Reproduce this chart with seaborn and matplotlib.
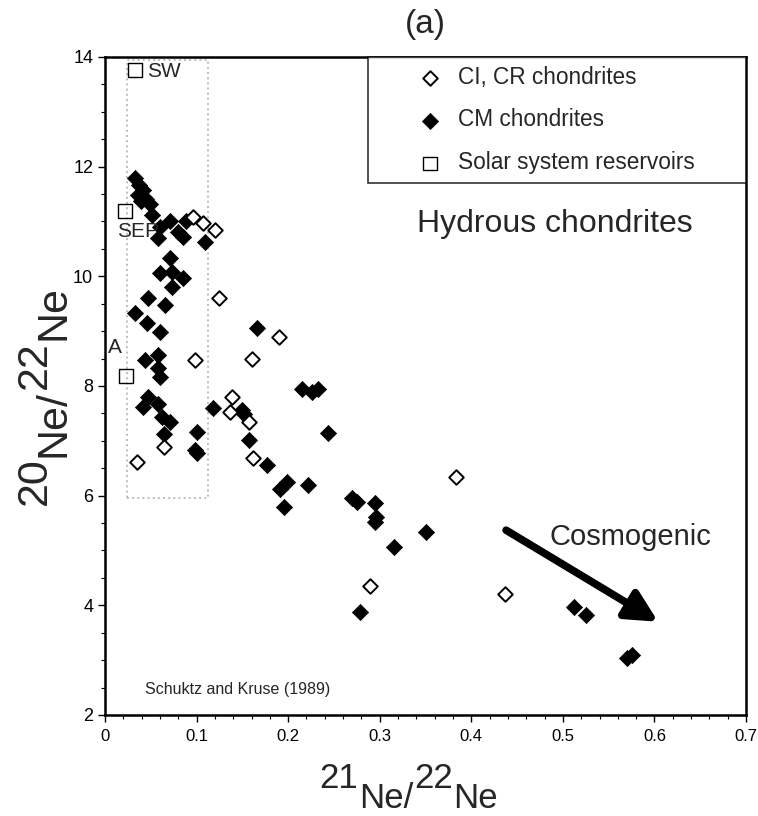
import matplotlib
matplotlib.use("Agg")
import matplotlib.pyplot as plt
import pandas as pd
import seaborn as sns
from matplotlib.patches import Rectangle
from matplotlib.ticker import MultipleLocator


# CI, CR chondrites (open diamonds)
ci_x = [0.096, 0.107, 0.120, 0.124, 0.190, 0.161, 0.098, 0.139, 0.137,
        0.157, 0.064, 0.035, 0.162, 0.383, 0.289, 0.437]
ci_y = [11.08, 10.97, 10.84, 9.60, 8.90, 8.50, 8.47, 7.80, 7.53,
        7.35, 6.89, 6.62, 6.68, 6.34, 4.36, 4.21]

# CM chondrites (filled diamonds)
cm_x = [0.033, 0.037, 0.042, 0.036, 0.045, 0.049, 0.039,
        0.051, 0.060, 0.058, 0.071, 0.080, 0.085, 0.089, 0.109,
        0.071, 0.060, 0.073, 0.085, 0.073,
        0.047, 0.066, 0.033, 0.046, 0.060, 0.044, 0.058, 0.058, 0.060,
        0.166, 0.215, 0.226, 0.233, 0.047, 0.042, 0.058, 0.062, 0.071,
        0.064, 0.100, 0.098, 0.101, 0.118, 0.150, 0.152, 0.157, 0.177,
        0.191, 0.199, 0.222, 0.244, 0.270, 0.275, 0.195,
        0.295, 0.296, 0.295, 0.350, 0.316, 0.279, 0.512, 0.525, 0.570, 0.576]
cm_y = [11.79, 11.66, 11.57, 11.48, 11.41, 11.32, 11.37,
        11.12, 10.90, 10.70, 11.00, 10.81, 10.72, 11.00, 10.63,
        10.33, 10.06, 10.08, 9.97, 9.81,
        9.60, 9.47, 9.33, 9.15, 8.99, 8.47, 8.56, 8.32, 8.17,
        9.05, 7.95, 7.89, 7.95, 7.80, 7.62, 7.68, 7.44, 7.35,
        7.13, 7.16, 6.84, 6.78, 7.59, 7.56, 7.48, 7.01, 6.55,
        6.13, 6.25, 6.19, 7.14, 5.95, 5.89, 5.79,
        5.86, 5.61, 5.52, 5.34, 5.06, 3.88, 3.97, 3.82, 3.04, 3.10]

# Solar system reservoirs
res_names = ["SW", "SEP", "A"]
res_x = [0.033, 0.022, 0.023]
res_y = [13.76, 11.19, 8.18]

# dotted field around the reservoirs and cosmogenic arrow
field_x = [0.024, 0.113]
field_y = [5.95, 13.95]
arrow_tail = (0.438, 5.37)
arrow_head = (0.604, 3.70)

sns.set_theme(style="ticks")
plt.rcParams["font.family"] = ["Liberation Sans", "DejaVu Sans"]

ci_df = pd.DataFrame({"x": ci_x, "y": ci_y})
cm_df = pd.DataFrame({"x": cm_x, "y": cm_y})
res_df = pd.DataFrame({"x": res_x, "y": res_y, "name": res_names})

fig = plt.figure(figsize=(7.58, 8.16), dpi=100)
ax = fig.add_axes([0.1385, 0.1238, 0.8457, 0.8064])

ax.add_patch(Rectangle((field_x[0], field_y[0]), field_x[1] - field_x[0],
                       field_y[1] - field_y[0], fill=False,
                       edgecolor="#bdbdbd", linestyle=":", linewidth=1.4,
                       zorder=1))

sns.scatterplot(data=cm_df, x="x", y="y", marker="D", s=68, color="black",
                edgecolor="black", linewidth=0.5, label="CM chondrites",
                zorder=3, ax=ax)
sns.scatterplot(data=ci_df, x="x", y="y", marker="D", s=55, color="white",
                edgecolor="black", linewidth=1.4, label="CI, CR chondrites",
                zorder=4, ax=ax)
sns.scatterplot(data=res_df, x="x", y="y", marker="s", s=95,
                facecolor="none", edgecolor="black", linewidth=1.0,
                label="Solar system reservoirs", zorder=4, ax=ax)

ax.text(res_x[0] + 0.013, res_y[0] - 0.03, "SW", fontsize=15,
        ha="left", va="center")
ax.text(res_x[1] + 0.014, res_y[1] - 0.37, "SEP", fontsize=15,
        ha="center", va="center")
ax.text(res_x[2] - 0.012, res_y[2] + 0.53, "A", fontsize=15,
        ha="center", va="center")

ax.text(0.341, 10.95, "Hydrous chondrites", fontsize=23, va="center")
ax.text(0.485, 5.25, "Cosmogenic", fontsize=21, va="center")
ax.text(0.044, 2.47, "Schuktz and Kruse (1989)", fontsize=11.5, va="center")

ax.annotate("", xy=arrow_head, xytext=arrow_tail,
            arrowprops=dict(arrowstyle="-|>,head_length=0.75,head_width=0.38",
                            color="black", lw=5.5, mutation_scale=25,
                            shrinkA=0, shrinkB=0), zorder=5)

ax.set_xlim(0, 0.7)
ax.set_ylim(2, 14)
ax.xaxis.set_major_locator(MultipleLocator(0.1))
ax.xaxis.set_minor_locator(MultipleLocator(0.02))
ax.yaxis.set_major_locator(MultipleLocator(2))
ax.yaxis.set_minor_locator(MultipleLocator(0.5))
ax.set_xticks([0, 0.1, 0.2, 0.3, 0.4, 0.5, 0.6, 0.7])
ax.set_xticklabels(["0", "0.1", "0.2", "0.3", "0.4", "0.5", "0.6", "0.7"])
ax.tick_params(which="major", direction="out", length=5, width=1,
               color="black", labelcolor="black")
ax.tick_params(which="minor", direction="out", length=3, width=0.8,
               color="black")
ax.tick_params(axis="x", pad=5, labelsize=12)
ax.tick_params(axis="y", pad=3.5, labelsize=13)
for side in ["left", "right", "top", "bottom"]:
    ax.spines[side].set_visible(True)
    ax.spines[side].set_linewidth(1.8)
    ax.spines[side].set_color("black")

ax.set_xlabel("")
ax.set_ylabel("")
ax.set_title("(a)", fontsize=24, pad=17)

# axis titles: mass numbers raised, element symbol dropped
drop = 14.4


def isotope_label(parts, anchor, vertical, fs, gap, step):
    kw = dict(fontsize=fs, annotation_clip=False)
    if vertical:
        t = ax.annotate(parts[0][0], xy=anchor, xycoords="axes fraction",
                        ha="left", va="bottom", rotation=90, **kw)
    else:
        t = ax.annotate(parts[0][0], xy=anchor, xycoords="axes fraction",
                        ha="left", va="top", **kw)
    prev = parts[0][1]
    for text, level in parts[1:]:
        dy = (level - prev) * step
        if vertical:
            t = ax.annotate(text, xy=(0, 1), xycoords=t, xytext=(-dy, gap),
                            textcoords="offset points", ha="left",
                            va="bottom", rotation=90, **kw)
        else:
            t = ax.annotate(text, xy=(1, 1), xycoords=t, xytext=(gap, dy),
                            textcoords="offset points", ha="left",
                            va="top", **kw)
        prev = level


isotope_label([("21", 0), ("Ne/", -1), ("22", 0), ("Ne", -1)],
              (0.335, -0.0714), False, 25, 0.5, drop)
isotope_label([("20", 0), ("Ne/", -1), ("22", 0), ("Ne", -1)],
              (-0.141, 0.319), True, 31, 0.5, 13.5)

handles, labels = ax.get_legend_handles_labels()
order = [labels.index("CI, CR chondrites"), labels.index("CM chondrites"),
         labels.index("Solar system reservoirs")]
leg = ax.legend([handles[i] for i in order], [labels[i] for i in order],
                loc="upper left", bbox_to_anchor=(0.41, 1.0, 0.59, 0),
                mode="expand", borderaxespad=0, frameon=True, fancybox=False,
                edgecolor="black", fontsize=16.3, handlelength=4.73,
                handletextpad=-1.12, borderpad=0.38, labelspacing=0.88)
leg.get_frame().set_linewidth(1.2)

fig.savefig("out.png", dpi=100)
